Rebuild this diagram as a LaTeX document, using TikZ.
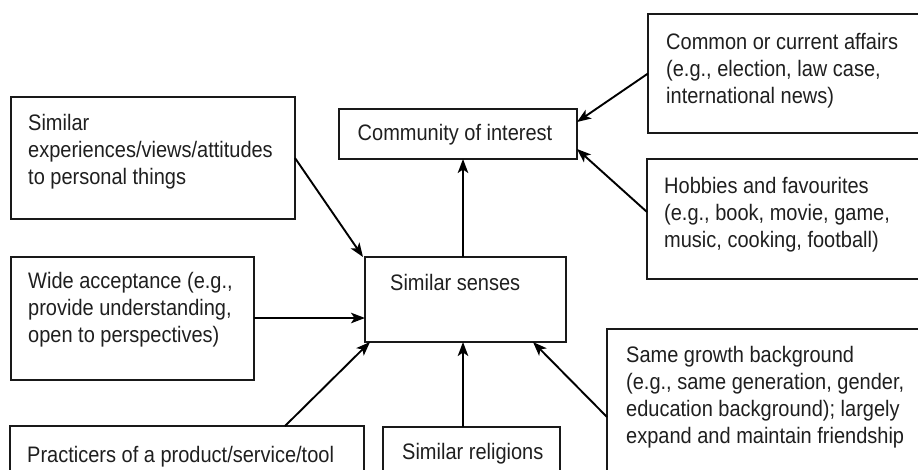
\documentclass[tikz,border=0pt]{standalone}
\usepackage{fontspec}
\usepackage{graphicx}
\setmainfont{Liberation Sans}
\usetikzlibrary{arrows.meta}
% left-aligned lines, set slightly tall
\newcommand\tallines[1]{\scalebox{1}[1.12]{\begin{tabular}{@{}l@{}}#1\end{tabular}}}
\begin{document}
\begin{tikzpicture}[x=1pt,y=-1pt,
  box/.style={draw=black!90, line width=2.1pt, inner sep=0pt, outer sep=0pt, anchor=north west},
  txt/.style={inner sep=0pt, anchor=north west,
    font=\fontsize{20}{24.1}\selectfont, text=black!88},
  arr/.style={draw=black, line width=1.9pt, -{Stealth[length=14pt,width=10.5pt,inset=3.5pt]}}]
\useasboundingbox (0,0) rectangle (918,469);

% boxes
\node[box, minimum width=284pt, minimum height=122pt] (sim) at (11,97) {};
\node[box, minimum width=243pt, minimum height=123pt] (wide) at (11,257) {};
\node[box, minimum width=238pt, minimum height=50pt] (comm) at (339,109) {};
\node[box, minimum width=201pt, minimum height=85pt] (senses) at (365,257) {};
\node[box, minimum width=290pt, minimum height=119pt] (common) at (648,14) {};
\node[box, minimum width=290pt, minimum height=120pt] (hobby) at (647,159) {};
\node[box, minimum width=330pt, minimum height=160pt] (growth) at (607,329) {};
\node[box, minimum width=354pt, minimum height=70pt] (pract) at (10,426) {};
\node[box, minimum width=177pt, minimum height=70pt] (relig) at (383,427) {};

% texts
\node[txt] (simt) at (28,111.6) {\tallines{Similar\\experiences/views/attitudes\\to personal things}};
\node[txt] (widet) at (28,269.6) {\tallines{Wide acceptance (e.g.,\\provide understanding,\\open to perspectives)}};
\node[txt, anchor=center] (commt) at (455,135) {\tallines{Community of interest}};
\node[txt] (sensest) at (390,271.6) {\tallines{Similar senses}};
\node[txt] (commont) at (666,30.6) {\tallines{Common or current affairs\\(e.g., election, law case,\\international news)}};
\node[txt] (hobbyt) at (664,174.6) {\tallines{Hobbies and favourites\\(e.g., book, movie, game,\\music, cooking, football)}};
\node[txt] (growtht) at (626,343.6) {\tallines{Same growth background\\(e.g., same generation, gender,\\education background); largely\\expand and maintain friendship}};
\node[txt] (practt) at (27,443.6) {\tallines{Practicers of a product/service/tool}};
\node[txt] (religt) at (402,440.6) {\tallines{Similar religions}};

% connectors
\draw[arr] (senses.north -| 463,0) -- (comm.south -| 463,0);
\draw[arr] (common.west) -- ([yshift=12pt]comm.east);
\draw[arr] ([yshift=7pt]hobby.west) -- ([yshift=-15pt]comm.east);
\draw[arr] (sim.east) -- ([xshift=-2pt]senses.north west);
\draw[arr] ([yshift=0.5pt]wide.east) -- ([yshift=0.5pt]wide.east -| senses.west);
\draw[arr] ([xshift=-79pt]pract.north east) -- ([xshift=5pt]senses.south west);
\draw[arr] (relig.north -| 463,0) -- (senses.south -| 463,0);
\draw[arr] ([yshift=-88pt]growth.north west) -- ([xshift=-33pt]senses.south east);
\end{tikzpicture}
\end{document}
